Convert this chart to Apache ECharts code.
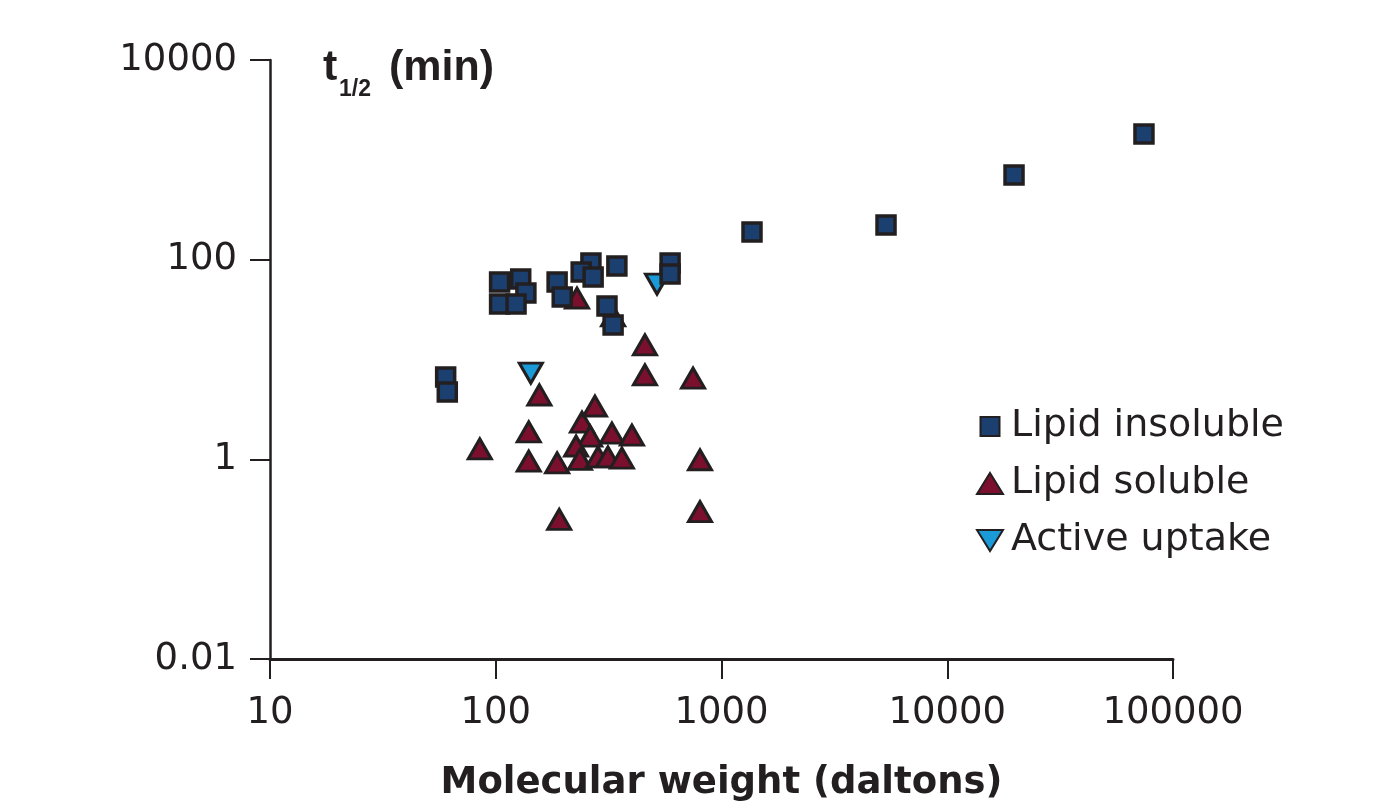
<!DOCTYPE html>
<html>
<head>
<meta charset="utf-8">
<script src="https://cdn.jsdelivr.net/npm/echarts@6/dist/echarts.min.js"></script>
<style>
html,body{margin:0;padding:0;background:#fff;overflow:hidden;}
#chart{width:1388px;height:809px;}
</style>
</head>
<body>
<div id="chart"></div>
<script>
// Molecular weight (daltons) and t1/2 (min) for each group
const insolubleMW = [104, 129, 136, 104, 123, 187, 197, 264, 239, 270, 344, 592, 592, 311, 331, 60, 61, 1365, 5355, 19760, 74370];
const insolubleT  = [59.7, 64, 46.4, 35.9, 35.9, 59.7, 42.3, 92.6, 75.2, 67, 86.4, 92.6, 71.8, 34.3, 22.2, 6.68, 4.72, 189, 222, 705, 1814];

const solubleMW = [85, 140, 140, 156, 187, 191, 241, 275, 262, 227, 236, 327, 401, 284, 314, 362, 803, 803, 458, 458, 748, 229, 331];
const solubleT  = [1.27, 1.88, 0.96, 4.41, 0.92, 0.25, 2.36, 3.42, 1.71, 1.36, 1.0, 1.83, 1.75, 1.06, 1.06, 1.03, 0.99, 0.30, 14.0, 7.0, 6.5, 41.3, 27.3];

const activeMW = [518, 143];
const activeT  = [57, 7.3];

const seriesNames = ['Lipid insoluble', 'Lipid soluble', 'Active uptake'];
const xTickLabels = ['10', '100', '1000', '10000', '100000'];
const yTickLabels = ['0.01', '1', '100', '10000'];

const zip = (a, b) => a.map((v, i) => [v, b[i]]);
const ink = '#231f20';
const FONT = 'DejaVu Sans';

function fmtTick(v, labels) {
  const s = String(Number(Number(v).toPrecision(6)));
  return labels.indexOf(s) >= 0 ? s : '';
}

const chart = echarts.init(document.getElementById('chart'), null, {renderer: 'canvas'});
const downTri = 'path://M0,0 L26,0 L13,21 Z';
const upTri = 'path://M13,0 L26,21 L0,21 Z';
const squareIcon = 'path://M-1,-1 M0,0 L19,0 L19,19 L0,19 Z M20,20';

chart.setOption({
  animation: false,
  backgroundColor: '#ffffff',
  grid: {left: 270, right: 215, top: 60, bottom: 150, containLabel: false, outerBoundsMode: 'none'},
  xAxis: {
    type: 'log', logBase: 10, min: 10, max: 100000,
    name: 'Molecular weight (daltons)',
    nameLocation: 'middle', nameGap: 106,
    nameTextStyle: {fontFamily: FONT, fontWeight: 'bold', fontSize: 37, color: ink},
    axisLine: {show: true, onZero: false, lineStyle: {color: ink, width: 3}},
    axisTick: {show: true, inside: false, length: 20, lineStyle: {color: ink, width: 2}},
    minorTick: {show: false},
    splitLine: {show: false},
    axisLabel: {margin: 36, fontFamily: FONT, fontSize: 37, color: ink,
      formatter: v => fmtTick(v, xTickLabels)}
  },
  yAxis: {
    type: 'log', logBase: 100, min: 0.01, max: 10000,
    axisLine: {show: true, onZero: false, lineStyle: {color: ink, width: 2.5}},
    axisTick: {show: true, inside: false, length: 20, lineStyle: {color: ink, width: 2}},
    splitLine: {show: false},
    axisLabel: {margin: 33, fontFamily: FONT, fontSize: 37, color: ink,
      formatter: v => fmtTick(v, yTickLabels)}
  },
  legend: {
    orient: 'vertical', left: 971, top: 401,
    itemWidth: 28, itemHeight: 21, itemGap: 16,
    textStyle: {fontFamily: FONT, fontSize: 38, color: ink, lineHeight: 41, padding: [0, 0, 0, 2]},
    data: [
      {name: seriesNames[0], icon: squareIcon},
      {name: seriesNames[1], icon: upTri},
      {name: seriesNames[2], icon: downTri}
    ]
  },
  graphic: [
    {type: 'text', x: 323, y: 68, style: {text: 't', font: 'bold 43px "Liberation Sans"', fill: ink, align: 'left', verticalAlign: 'middle'}},
    {type: 'text', x: 339, y: 90, style: {text: '1/2', font: 'bold 23px "Liberation Sans"', fill: ink, align: 'left', verticalAlign: 'middle'}},
    {type: 'text', x: 389, y: 68, style: {text: '(min)', font: 'bold 43px "Liberation Sans"', fill: ink, align: 'left', verticalAlign: 'middle'}}
  ],
  series: [
    {
      name: seriesNames[1], type: 'scatter', z: 2,
      symbol: 'triangle', symbolSize: [23, 20],
      itemStyle: {color: '#7a0f2e', borderColor: ink, borderWidth: 3, opacity: 1},
      data: zip(solubleMW, solubleT)
    },
    {
      name: seriesNames[2], type: 'scatter', z: 3,
      symbol: downTri, symbolSize: [23, 20],
      itemStyle: {color: '#1a9bd7', borderColor: ink, borderWidth: 3, opacity: 1},
      data: zip(activeMW, activeT)
    },
    {
      name: seriesNames[0], type: 'scatter', z: 4,
      symbol: 'rect', symbolSize: 18,
      itemStyle: {color: '#1b3f6e', borderColor: ink, borderWidth: 3.5, opacity: 1},
      data: zip(insolubleMW, insolubleT)
    }
  ]
});
</script>
</body>
</html>
